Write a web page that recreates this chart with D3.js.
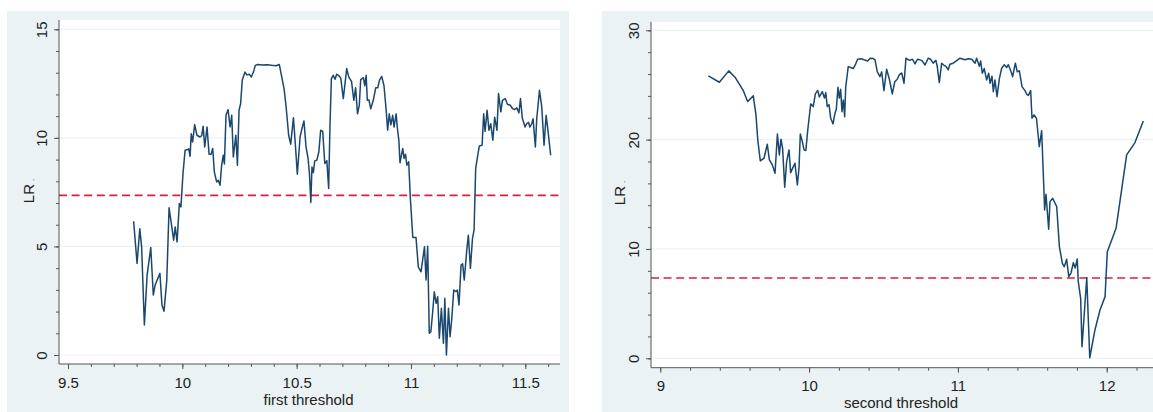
<!DOCTYPE html>
<html>
<head>
<meta charset="utf-8">
<script src="https://cdn.jsdelivr.net/npm/d3@7"></script>
<style>
  html, body { margin: 0; padding: 0; background: #ffffff; }
  svg { display: block; font-family: "Liberation Sans", Arial, sans-serif; }
</style>
</head>
<body>
<svg id="chart" width="1153" height="412"></svg>
<script>
// Likelihood-ratio statistic over candidate threshold values (first threshold)
const firstGamma = [
  9.787, 9.802, 9.814, 9.822, 9.834, 9.846, 9.862, 9.873, 9.881, 9.902,
  9.911, 9.920, 9.932, 9.942, 9.954, 9.962, 9.969, 9.977, 9.987, 9.994,
  10.003, 10.012, 10.024, 10.028, 10.034, 10.039, 10.045, 10.054, 10.064, 10.077,
  10.085, 10.091, 10.098, 10.108, 10.117, 10.126, 10.133, 10.140, 10.150, 10.157,
  10.165, 10.172, 10.179, 10.184, 10.191, 10.200, 10.209, 10.216, 10.223, 10.234,
  10.241, 10.248, 10.255, 10.262, 10.274, 10.282, 10.293, 10.302, 10.311, 10.319,
  10.330, 10.350, 10.370, 10.390, 10.410, 10.424, 10.435, 10.445, 10.454, 10.465,
  10.474, 10.486, 10.494, 10.503, 10.515, 10.525, 10.532, 10.541, 10.550, 10.556,
  10.562, 10.567, 10.573, 10.579, 10.588, 10.597, 10.605, 10.614, 10.623, 10.632,
  10.640, 10.646, 10.652, 10.660, 10.668, 10.675, 10.686, 10.693, 10.704, 10.719,
  10.728, 10.740, 10.750, 10.758, 10.766, 10.774, 10.780, 10.792, 10.798, 10.804,
  10.809, 10.816, 10.824, 10.835, 10.846, 10.855, 10.862, 10.872, 10.882, 10.891,
  10.898, 10.905, 10.912, 10.920, 10.926, 10.935, 10.941, 10.947, 10.952, 10.964,
  10.970, 10.976, 10.982, 10.990, 10.997, 11.008, 11.022, 11.032, 11.044, 11.059,
  11.066, 11.073, 11.080, 11.087, 11.095, 11.102, 11.110, 11.117, 11.124, 11.133,
  11.142, 11.148, 11.155, 11.164, 11.171, 11.178, 11.187, 11.197, 11.203, 11.210,
  11.219, 11.226, 11.233, 11.244, 11.251, 11.260, 11.269, 11.276, 11.283, 11.291,
  11.299, 11.311, 11.318, 11.324, 11.333, 11.341, 11.349, 11.358, 11.366, 11.376,
  11.383, 11.393, 11.400, 11.412, 11.422, 11.434, 11.444, 11.453, 11.463, 11.472,
  11.479, 11.487, 11.499, 11.506, 11.514, 11.520, 11.528, 11.534, 11.544, 11.550,
  11.562, 11.572, 11.582, 11.591, 11.598, 11.611
];
const firstLR = [
  6.16, 4.22, 5.81, 4.98, 1.38, 3.68, 4.95, 2.76, 3.22, 3.76,
  2.30, 2.02, 3.45, 6.78, 5.90, 5.29, 5.90, 5.21, 6.98, 6.82,
  8.36, 9.43, 9.46, 9.50, 9.15, 10.19, 9.81, 10.61, 10.12, 10.04,
  10.10, 10.53, 9.58, 10.50, 9.25, 9.25, 9.51, 8.43, 7.97, 8.05,
  7.82, 8.74, 9.20, 8.80, 11.04, 11.30, 10.50, 11.04, 9.12, 10.12,
  8.74, 11.27, 11.58, 12.65, 13.03, 12.90, 12.93, 12.80, 13.03, 13.34,
  13.38, 13.36, 13.37, 13.34, 13.32, 13.38, 12.80, 12.26, 11.42, 10.12,
  9.71, 10.93, 9.74, 8.33, 10.04, 10.50, 10.78, 9.58, 9.05, 8.36,
  7.02, 8.66, 8.40, 8.94, 8.97, 9.35, 10.35, 10.30, 8.82, 8.95,
  7.67, 10.69, 12.73, 12.88, 12.70, 12.93, 12.85, 12.75, 11.81, 13.19,
  12.80, 12.60, 11.73, 12.31, 11.11, 11.50, 12.68, 12.77, 12.40, 12.88,
  11.73, 11.75, 11.34, 11.73, 12.31, 12.31, 12.65, 12.83, 12.40, 11.34,
  10.35, 11.11, 10.60, 11.04, 10.50, 11.11, 10.40, 9.89, 8.85, 9.51,
  9.05, 9.25, 8.74, 8.90, 7.28, 5.41, 5.41, 4.06, 3.83, 4.98,
  3.45, 5.01, 1.00, 1.07, 1.99, 2.91, 2.38, 2.68, 0.77, 2.15,
  0.54, 2.61, 0.00, 2.15, 0.84, 1.61, 2.99, 2.92, 2.99, 2.30,
  4.14, 4.20, 3.45, 4.83, 5.52, 3.99, 5.37, 5.75, 8.59, 9.12,
  9.63, 9.66, 11.11, 10.30, 11.27, 10.35, 10.65, 9.89, 10.95, 10.35,
  12.04, 11.20, 11.73, 11.81, 11.55, 11.50, 11.35, 11.30, 11.38, 11.15,
  11.81, 10.90, 10.50, 10.65, 10.72, 10.50, 10.65, 10.88, 9.58, 10.88,
  12.19, 11.42, 9.66, 11.04, 10.45, 9.20
];

// Likelihood-ratio statistic over candidate threshold values (second threshold)
const secondGamma = [
  9.323, 9.397, 9.460, 9.502, 9.558, 9.587, 9.625, 9.643, 9.655, 9.672,
  9.697, 9.719, 9.733, 9.753, 9.771, 9.787, 9.800, 9.811, 9.822, 9.836,
  9.849, 9.865, 9.876, 9.894, 9.905, 9.921, 9.932, 9.941, 9.955, 9.966,
  9.978, 9.991, 10.011, 10.028, 10.042, 10.058, 10.069, 10.089, 10.103, 10.112,
  10.122, 10.134, 10.145, 10.161, 10.172, 10.183, 10.194, 10.203, 10.212, 10.221,
  10.230, 10.239, 10.246, 10.263, 10.279, 10.297, 10.310, 10.326, 10.350, 10.370,
  10.394, 10.410, 10.431, 10.443, 10.458, 10.476, 10.488, 10.503, 10.521, 10.540,
  10.559, 10.576, 10.591, 10.606, 10.622, 10.638, 10.651, 10.673, 10.695, 10.712,
  10.728, 10.757, 10.779, 10.801, 10.816, 10.834, 10.852, 10.861, 10.875, 10.891,
  10.907, 10.920, 10.935, 10.946, 10.968, 10.992, 11.014, 11.048, 11.070, 11.093,
  11.115, 11.126, 11.144, 11.153, 11.164, 11.177, 11.193, 11.207, 11.216, 11.229,
  11.238, 11.249, 11.263, 11.279, 11.294, 11.312, 11.328, 11.339, 11.355, 11.368,
  11.386, 11.399, 11.413, 11.431, 11.451, 11.463, 11.474, 11.489, 11.498, 11.511,
  11.528, 11.547, 11.563, 11.583, 11.592, 11.610, 11.619, 11.637, 11.664, 11.682,
  11.702, 11.715, 11.731, 11.745, 11.760, 11.776, 11.788, 11.802, 11.809, 11.825,
  11.834, 11.866, 11.886, 11.921, 11.955, 11.989, 12.004, 12.063, 12.134, 12.190,
  12.246
];
const secondLR = [
  25.83, 25.25, 26.29, 25.71, 24.48, 23.48, 24.00, 22.26, 19.97, 18.05,
  18.30, 19.58, 18.14, 17.69, 16.93, 20.52, 18.60, 20.04, 19.20, 15.64,
  17.99, 19.06, 16.98, 17.53, 17.84, 15.86, 17.38, 20.52, 19.80, 19.06,
  19.00, 20.89, 23.27, 23.02, 24.18, 24.50, 23.90, 24.39, 23.80, 24.30,
  23.02, 23.20, 21.96, 21.44, 22.30, 22.80, 24.79, 23.80, 24.60, 22.56,
  23.63, 22.10, 24.79, 26.68, 26.60, 26.50, 26.83, 27.35, 27.40, 27.30,
  27.20, 27.45, 27.41, 27.29, 26.22, 25.76, 26.20, 24.48, 26.44, 25.50,
  24.18, 25.30, 25.50, 25.92, 26.10, 25.16, 27.45, 27.25, 27.35, 26.93,
  27.35, 27.25, 26.83, 27.45, 27.35, 27.00, 27.25, 26.70, 25.22, 26.99,
  26.80, 26.70, 26.38, 26.90, 26.99, 27.23, 27.45, 27.30, 27.40, 27.35,
  26.99, 27.45, 26.70, 27.20, 26.07, 26.50, 25.46, 26.07, 25.16, 25.80,
  24.39, 25.46, 23.93, 25.60, 26.53, 26.85, 26.60, 26.85, 26.30, 25.76,
  26.99, 26.20, 26.30, 24.85, 24.48, 24.15, 24.05, 24.48, 21.96, 22.26,
  21.96, 19.36, 20.82, 13.57, 15.00, 11.80, 14.33, 14.64, 13.87, 10.21,
  8.69, 8.38, 9.06, 7.47, 7.80, 8.75, 8.25, 9.08, 7.01, 5.49,
  1.06, 7.37, 0.05, 2.59, 4.42, 5.64, 9.75, 11.89, 18.60, 19.73,
  21.71
];

// 95% critical value of the LR statistic
const criticalValue = 7.35;

// Axis ticks
const firstXTicks = [9.5, 10, 10.5, 11, 11.5];
const firstYTicks = [0, 5, 10, 15];
const secondXTicks = [9, 10, 11, 12];
const secondYTicks = [0, 10, 20, 30];
const firstXMinor = d3.range(95, 117).map(v => v / 10);
const firstYMinor = d3.range(0, 16);
const secondXMinor = d3.range(45, 62).map(v => v / 5);
const secondYMinor = d3.range(0, 31, 2);

const C = {
  region: "#eaf2f3",
  grid: "#eaf2f3",
  axis: "#555555",
  text: "#222222",
  line: "#1a476f",
  crit: "#d6203f"
};

const svg = d3.select("#chart");

function drawPanel(p) {
  const g = svg.append("g");

  // graph region and plot region
  g.append("rect").attr("x", p.bg[0]).attr("y", p.bg[1])
    .attr("width", p.bg[2]).attr("height", p.bg[3]).attr("fill", C.region);
  g.append("rect").attr("x", p.left).attr("y", p.top)
    .attr("width", p.right - p.left).attr("height", p.bottom - p.top).attr("fill", "#ffffff");

  const x = d3.scaleLinear().domain(p.xRef).range(p.xPix);
  const y = d3.scaleLinear().domain(p.yRef).range(p.yPix);

  // horizontal grid lines at the major y ticks
  g.append("g").selectAll("line").data(p.yTicks).join("line")
    .attr("x1", p.left).attr("x2", p.right)
    .attr("y1", d => y(d)).attr("y2", d => y(d))
    .attr("stroke", C.grid).attr("stroke-width", 1.2);

  // critical value
  g.append("line")
    .attr("x1", p.left).attr("x2", p.right)
    .attr("y1", y(criticalValue)).attr("y2", y(criticalValue))
    .attr("stroke", C.crit).attr("stroke-width", 1.6)
    .attr("stroke-dasharray", "8,4.6");

  // LR curve
  const pts = p.gx.map((v, i) => [v, p.lr[i]]);
  const clipId = "clip" + p.id;
  g.append("clipPath").attr("id", clipId).append("rect")
    .attr("x", p.left).attr("y", p.top)
    .attr("width", p.right - p.left).attr("height", p.bottom - p.top);
  g.append("path").datum(pts)
    .attr("clip-path", `url(#${clipId})`)
    .attr("d", d3.line().x(d => x(d[0])).y(d => y(d[1])))
    .attr("fill", "none").attr("stroke", C.line)
    .attr("stroke-width", 1.5).attr("stroke-linejoin", "round");

  // y axis: minor ticks, then major ticks with rotated labels
  const yAxisG = g.append("g").attr("transform", `translate(${p.left},0)`);
  yAxisG.append("g")
    .call(d3.axisLeft(y).tickValues(p.yMinor).tickSize(3).tickFormat(""))
    .call(s => s.select(".domain").remove());
  const yMajor = yAxisG.append("g")
    .call(d3.axisLeft(y).tickValues(p.yTicks).tickSize(5).tickSizeOuter(0).tickFormat(d => d))
    .call(s => s.select(".domain").remove());
  yMajor.selectAll(".tick text")
    .attr("x", 0).attr("y", -p.yLabelOff).attr("dy", null)
    .attr("transform", "rotate(-90)")
    .attr("text-anchor", "middle")
    .attr("dominant-baseline", "central");
  yAxisG.append("line").attr("x1", 0).attr("x2", 0)
    .attr("y1", p.top).attr("y2", p.bottom);

  // x axis
  const xAxisG = g.append("g").attr("transform", `translate(0,${p.bottom})`);
  xAxisG.append("g")
    .call(d3.axisBottom(x).tickValues(p.xMinor.filter(v => x(v) >= p.left && x(v) <= p.right)).tickSize(3).tickFormat(""))
    .call(s => s.select(".domain").remove());
  const xMajor = xAxisG.append("g")
    .call(d3.axisBottom(x).tickValues(p.xTicks).tickSize(5).tickFormat(d => d))
    .call(s => s.select(".domain").remove());
  xMajor.selectAll(".tick text")
    .attr("y", 18).attr("dy", null)
    .attr("dominant-baseline", "central");
  xAxisG.append("line").attr("x1", p.left).attr("x2", p.right)
    .attr("y1", 0).attr("y2", 0);

  g.selectAll(".tick line").attr("stroke", C.axis);
  g.selectAll(".tick text").attr("fill", C.text)
    .attr("font-size", 15).attr("font-family", '"Liberation Sans", Arial, sans-serif');
  yAxisG.selectAll(":scope > line").attr("stroke", C.axis);
  xAxisG.selectAll(":scope > line").attr("stroke", C.axis);

  // axis titles
  g.append("text")
    .attr("x", p.xTitle[0]).attr("y", p.xTitle[1])
    .attr("text-anchor", "middle").attr("dominant-baseline", "central")
    .attr("font-size", 15).attr("fill", C.text)
    .text(p.xLabel);

  const yt = g.append("text")
    .attr("transform", `translate(${p.yTitle[0]},${p.yTitle[1]}) rotate(-90)`)
    .attr("text-anchor", "middle")
    .attr("font-size", 15).attr("fill", C.text);
  yt.append("tspan").text("LR");
  yt.append("tspan").attr("font-size", 8).attr("dx", 3).text(".");
}

drawPanel({
  id: "A",
  bg: [7, 11, 562, 401],
  left: 59, right: 560, top: 20, bottom: 364,
  xRef: [9.5, 11.5], xPix: [68, 525.3],
  yRef: [0, 15], yPix: [355, 29.3],
  gx: firstGamma, lr: firstLR,
  xTicks: firstXTicks, yTicks: firstYTicks,
  xMinor: firstXMinor, yMinor: firstYMinor,
  yLabelOff: 17.5,
  xLabel: "first threshold",
  xTitle: [308.5, 399],
  yTitle: [33.5, 191]
});

drawPanel({
  id: "B",
  bg: [602, 11, 551, 401],
  left: 651, right: 1153, top: 22, bottom: 367.7,
  xRef: [9, 12], xPix: [660.3, 1106.7],
  yRef: [0, 30], yPix: [358.3, 30.3],
  gx: secondGamma, lr: secondLR,
  xTicks: secondXTicks, yTicks: secondYTicks,
  xMinor: secondXMinor, yMinor: secondYMinor,
  yLabelOff: 18,
  xLabel: "second threshold",
  xTitle: [901, 402],
  yTitle: [625, 193]
});
</script>
</body>
</html>
